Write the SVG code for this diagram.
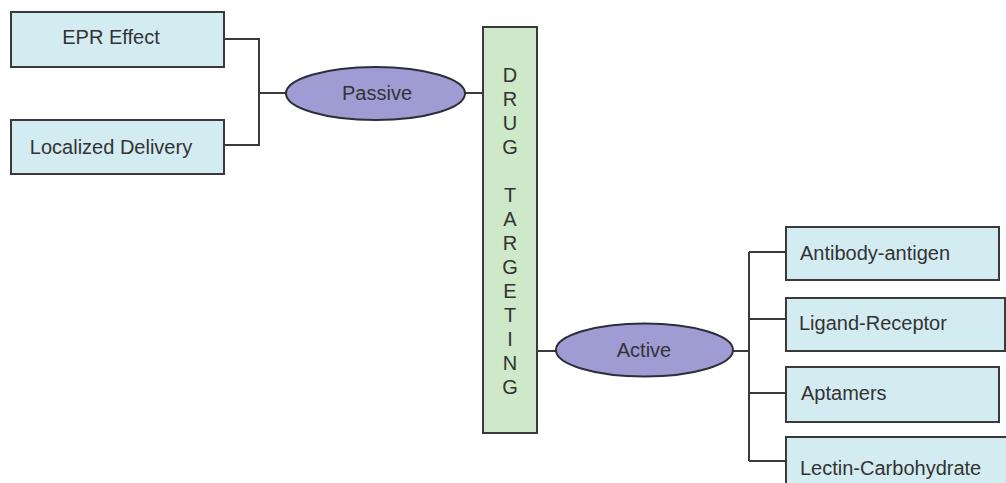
<svg xmlns="http://www.w3.org/2000/svg" width="1006" height="483" viewBox="0 0 1006 483">
<style>
.box{fill:#d3ecf1;stroke:#3a3a3a;stroke-width:2}
.ell{fill:#9f9cd3;stroke:#2e2e3a;stroke-width:2}
.core{fill:#cde9c9;stroke:#3a3a3a;stroke-width:2}
.t{font-family:"Liberation Sans",Arial,sans-serif;font-size:20px;fill:#333}
.c{text-anchor:middle}
.v{font-family:"Liberation Sans",Arial,sans-serif;font-size:20px;fill:#333;text-anchor:middle}
.ln{fill:none;stroke:#3a3a3a;stroke-width:2}
</style>
<rect width="1006" height="483" fill="#fff"/>
<g id="connectors">
<path class="ln" d="M224,39 H259 V145 H224 M259,93 H286"/>
<path class="ln" d="M465,93 H483"/>
<path class="ln" d="M537,351 H556"/>
<path class="ln" d="M733,351 H749 M749,252 V461 M749,252 H786 M749,319 H786 M749,393 H786 M749,461 H786"/>
</g>
<g id="epr"><rect class="box" x="11" y="12" width="213" height="55"/><text class="t c" x="111" y="44">EPR Effect</text></g>
<g id="localized"><rect class="box" x="11" y="120" width="213" height="54"/><text class="t c" x="111" y="154">Localized Delivery</text></g>
<g id="passive"><ellipse class="ell" cx="375.5" cy="93.5" rx="89.5" ry="26.5"/><text class="t c" x="377" y="100">Passive</text></g>
<g id="drug-targeting"><rect class="core" x="483" y="27" width="54" height="406"/>
<text class="v" x="510" y="82">D</text>
<text class="v" x="510" y="106">R</text>
<text class="v" x="510" y="130">U</text>
<text class="v" x="510" y="154">G</text>
<text class="v" x="510" y="202">T</text>
<text class="v" x="510" y="226">A</text>
<text class="v" x="510" y="250">R</text>
<text class="v" x="510" y="274">G</text>
<text class="v" x="510" y="298">E</text>
<text class="v" x="510" y="322">T</text>
<text class="v" x="510" y="346">I</text>
<text class="v" x="510" y="370">N</text>
<text class="v" x="510" y="394">G</text>
</g>
<g id="active"><ellipse class="ell" cx="644.5" cy="350" rx="88.5" ry="26.5"/><text class="t c" x="644" y="357">Active</text></g>
<g id="antibody"><rect class="box" x="786" y="227" width="213" height="53"/><text class="t" x="800" y="260">Antibody-antigen</text></g>
<g id="ligand"><rect class="box" x="786" y="298" width="219" height="53"/><text class="t" x="799" y="330">Ligand-Receptor</text></g>
<g id="aptamers"><rect class="box" x="786" y="367" width="213" height="55"/><text class="t" x="801" y="400">Aptamers</text></g>
<g id="lectin"><rect class="box" x="786" y="437" width="230" height="60"/><text class="t" x="800" y="475">Lectin-Carbohydrate</text></g>
</svg>
